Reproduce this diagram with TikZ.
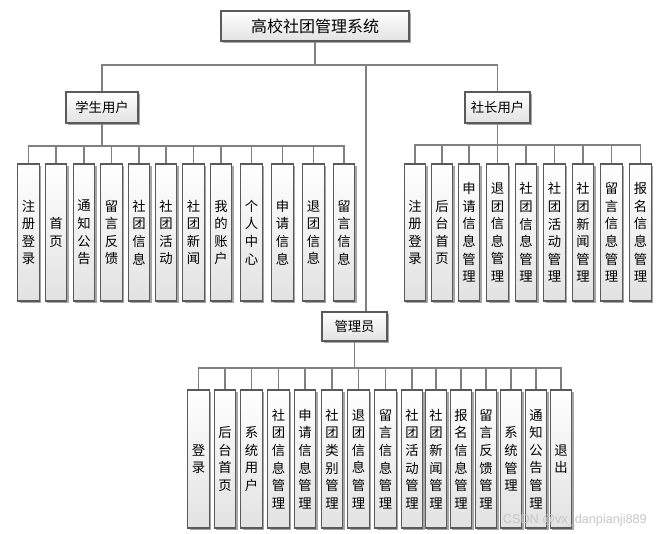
\documentclass[tikz,border=0pt]{standalone}
\usepackage{fontspec}
\setmainfont{Noto Sans CJK SC}
\newfontfamily\wmfont{Liberation Sans}
\usetikzlibrary{shadows}
\definecolor{bordc}{HTML}{5A5A5A}
\definecolor{linec}{HTML}{808080}
\definecolor{boxbot}{HTML}{E2E2E2}
\begin{document}
\begin{tikzpicture}[x=0.75pt,y=-0.75pt,
  box/.style={draw=bordc, line width=0.8pt, top color=white, bottom color=boxbot,
    drop shadow={shadow xshift=1.6pt, shadow yshift=-1.6pt, opacity=0.35, fill=black},
    inner sep=0pt, align=center},
  head/.style={box, font=\fontsize{10}{12}\selectfont},
  leaf/.style={box, minimum width=16.1pt, minimum height=102.75pt, font=\fontsize{10}{13.2}\selectfont},
  aleaf/.style={leaf, minimum height=103.5pt},
  conn/.style={draw=linec, line width=1pt}]
\useasboundingbox (0,0) rectangle (658,533);

% top level
\node[head, minimum width=141pt, minimum height=22.5pt, font=\fontsize{12}{14}\selectfont] (root) at (315,26) {高校社团管理系统};
\node[head, minimum width=54pt, minimum height=23.25pt] (stu) at (102,107.5) {学生用户};
\node[head, minimum width=48.75pt, minimum height=23.25pt] (pres) at (497.5,107.5) {社长用户};
\node[head, minimum width=48.75pt, minimum height=21.75pt] (adm) at (354.5,326.5) {管理员};

\coordinate (rbus) at (315,65);
\coordinate (ain) at (366,65);
\draw[conn] (root.south) -- (rbus);
\draw[conn] (rbus) -| (stu.north);
\draw[conn] (rbus) -| (pres.north);
\draw[conn] (ain) -- (ain |- adm.north);

% student children
\coordinate (sbus) at (102,146);
\draw[conn] (stu.south) -- (sbus);
\foreach \x/\t [count=\i] in {
  28.5/{注\\册\\登\\录}, 56/{首\\页}, 84/{通\\知\\公\\告}, 111.5/{留\\言\\反\\馈},
  139/{社\\团\\信\\息}, 166/{社\\团\\活\\动}, 193.5/{社\\团\\新\\闻}, 221/{我\\的\\账\\户},
  251.5/{个\\人\\中\\心}, 282.5/{申\\请\\信\\息}, 313.5/{退\\团\\信\\息}, 344/{留\\言\\信\\息}}{
  \node[leaf] (s\i) at (\x,232.5) {\t};
  \draw[conn] (sbus) -| (s\i.north);
}

% president children
\coordinate (pbus) at (497.5,145);
\draw[conn] (pres.south) -- (pbus);
\foreach \x/\t [count=\i] in {
  415/{注\\册\\登\\录}, 442/{后\\台\\首\\页}, 469/{申\\请\\信\\息\\管\\理}, 497.5/{退\\团\\信\\息\\管\\理},
  526/{社\\团\\信\\息\\管\\理}, 554.5/{社\\团\\活\\动\\管\\理}, 583/{社\\团\\新\\闻\\管\\理},
  611.5/{留\\言\\信\\息\\管\\理}, 640.5/{报\\名\\信\\息\\管\\理}}{
  \node[leaf] (p\i) at (\x,232.5) {\t};
  \draw[conn] (pbus) -| (p\i.north);
}

% admin children
\coordinate (abus) at (354.5,368);
\draw[conn] (adm.south) -- (abus);
\foreach \x/\t [count=\i] in {
  198.5/{登\\录}, 225/{后\\台\\首\\页}, 251.5/{系\\统\\用\\户}, 278.5/{社\\团\\信\\息\\管\\理},
  305/{申\\请\\信\\息\\管\\理}, 332/{社\\团\\类\\别\\管\\理}, 358.5/{退\\团\\信\\息\\管\\理},
  385.5/{留\\言\\信\\息\\管\\理}, 412/{社\\团\\活\\动\\管\\理}, 436/{社\\团\\新\\闻\\管\\理},
  461/{报\\名\\信\\息\\管\\理}, 486/{留\\言\\反\\馈\\管\\理}, 511/{系\\统\\管\\理},
  536/{通\\知\\公\\告\\管\\理}, 561/{退\\出}}{
  \node[aleaf] (a\i) at (\x,459) {\t};
  \draw[conn] (abus) -| (a\i.north);
}

% watermark
\node[font=\wmfont\fontsize{9.5}{11}\selectfont, text=gray!45, anchor=east, inner sep=0pt] (wm) at (647,520) {CSDN @vx\_danpianji889};
\end{tikzpicture}
\end{document}
